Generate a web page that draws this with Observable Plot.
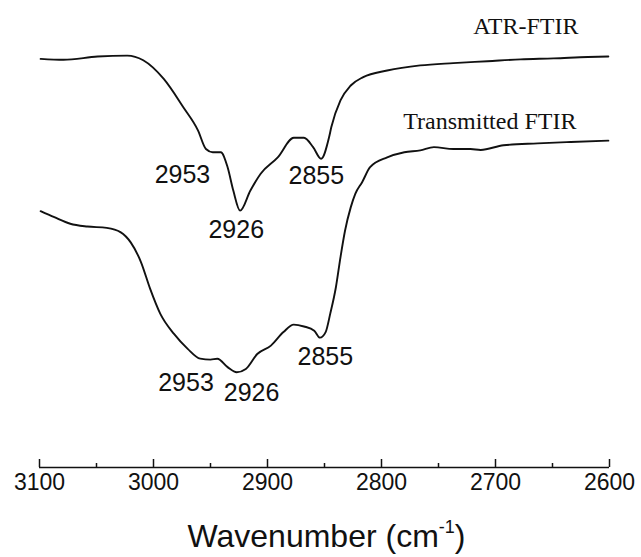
<!DOCTYPE html>
<html>
<head>
<meta charset="utf-8">
<script src="https://cdn.jsdelivr.net/npm/d3@7"></script>
<script src="https://cdn.jsdelivr.net/npm/@observablehq/plot@0.6"></script>
<style>
  body { margin: 0; background: #fff; }
  #chart svg { display: block; overflow: visible; }
  #xtitle {
    font-family: "Liberation Sans", Arial, sans-serif;
    font-size: 32px; line-height: 32px; text-align: center;
    margin-top: 15px; padding-left: 6px; color: #111; width: 641px;
  }
  #xtitle sup { font-size: 18px; vertical-align: baseline; position: relative; top: -14px; }
</style>
</head>
<body>
<div id="chart"></div>
<div id="xtitle">Wavenumber (cm<sup>-1</sup>)</div>
<script>
// ATR-FTIR spectrum (wavenumber, transmittance a.u.)
const atrWavenumber = [3099, 3079, 3049, 3023, 3009, 2991, 2974, 2961, 2954, 2948, 2941, 2935, 2930, 2924, 2915, 2906, 2891, 2877, 2868, 2860, 2853, 2846, 2844, 2836, 2827, 2816, 2795, 2766, 2737, 2707, 2678, 2649, 2619, 2601];
const atrTransmittance = [87.5, 87.3, 88.0, 88.2, 87.2, 83.2, 77.2, 72.2, 68.2, 67.5, 67.5, 64.3, 59.3, 55.0, 59.3, 62.9, 66.4, 70.6, 70.6, 68.6, 66.1, 70.7, 72.9, 78.6, 81.8, 83.6, 85.0, 86.1, 86.6, 87.0, 87.4, 87.6, 87.9, 88.0];

// Transmitted FTIR spectrum
const ftirWavenumber = [3099, 3087, 3073, 3058, 3041, 3029, 3020, 3011, 3003, 2994, 2982, 2970, 2959, 2950, 2944, 2935, 2927, 2919, 2909, 2897, 2886, 2877, 2868, 2859, 2854, 2849, 2845, 2840, 2836, 2832, 2827, 2823, 2817, 2810, 2795, 2780, 2766, 2754, 2737, 2722, 2713, 2693, 2663, 2634, 2601];
const ftirTransmittance = [54.9, 53.6, 52.2, 51.6, 51.3, 50.4, 48.2, 44.0, 38.3, 32.9, 28.6, 25.4, 23.3, 23.1, 23.3, 21.5, 20.4, 21.1, 24.3, 26.1, 29.0, 30.6, 30.2, 29.3, 27.8, 29.0, 32.9, 38.6, 45.0, 50.7, 55.7, 58.6, 61.1, 64.3, 66.4, 67.5, 67.9, 68.6, 68.2, 68.2, 68.0, 69.0, 69.4, 69.7, 70.0];

// Axis ticks
const majorTicks = [3100, 3000, 2900, 2800, 2700, 2600];
const minorTicks = [3050, 2950, 2850, 2750, 2650];

// Peak annotations (text, and where it sits in data units)
const peakText = ["2953", "2926", "2855", "2953", "2926", "2855"];
const peakWavenumber = [2974.6, 2927.4, 2857.2, 2971.5, 2914, 2849.3];
const peakTransmittance = [62.7, 50.9, 62.4, 18.2, 16.0, 23.6];

// Series labels
const seriesNames = ["ATR-FTIR", "Transmitted FTIR"];
const seriesWavenumber = [2627.2, 2629];
const seriesTransmittance = [94.4, 74.1];

const atr = atrWavenumber.map((wn, i) => ({wn, t: atrTransmittance[i]}));
const ftir = ftirWavenumber.map((wn, i) => ({wn, t: ftirTransmittance[i]}));
const peaks = peakText.map((label, i) => ({label, wn: peakWavenumber[i], t: peakTransmittance[i]}));
const series = seriesNames.map((name, i) => ({name, wn: seriesWavenumber[i], t: seriesTransmittance[i]}));

const sans = "'Liberation Sans', Arial, sans-serif";
const serif = "'Liberation Serif', 'Times New Roman', serif";
const frameBottom = 467;

const chart = Plot.plot({
  width: 641,
  height: 505,
  marginLeft: 39,
  marginRight: 32,
  marginTop: 0,
  marginBottom: 505 - frameBottom,
  x: {domain: [3100, 2600], axis: null},
  y: {domain: [0, 100], axis: null},
  style: {background: "#fff", color: "#111"},
  marks: [
    Plot.ruleY([0], {stroke: "#111", strokeWidth: 1.5}),
    Plot.tickX(majorTicks, {x: d => d, insetTop: frameBottom - 8, stroke: "#111", strokeWidth: 1.5}),
    Plot.tickX(minorTicks, {x: d => d, insetTop: frameBottom - 4, stroke: "#111", strokeWidth: 1.5}),
    Plot.text(majorTicks, {x: d => d, frameAnchor: "bottom", dy: 22, text: d => String(d), fontSize: 23, fontFamily: sans, fill: "#111"}),
    Plot.line(atr, {x: "wn", y: "t", curve: "monotone-x", stroke: "#111", strokeWidth: 1.9}),
    Plot.line(ftir, {x: "wn", y: "t", curve: "monotone-x", stroke: "#111", strokeWidth: 1.9}),
    Plot.text(peaks, {x: "wn", y: "t", text: "label", fontSize: 25, fontFamily: sans, fill: "#111"}),
    Plot.text(series, {x: "wn", y: "t", text: "name", textAnchor: "end", fontSize: 24, fontFamily: serif, fill: "#111"})
  ]
});
document.getElementById("chart").appendChild(chart);
</script>
</body>
</html>
